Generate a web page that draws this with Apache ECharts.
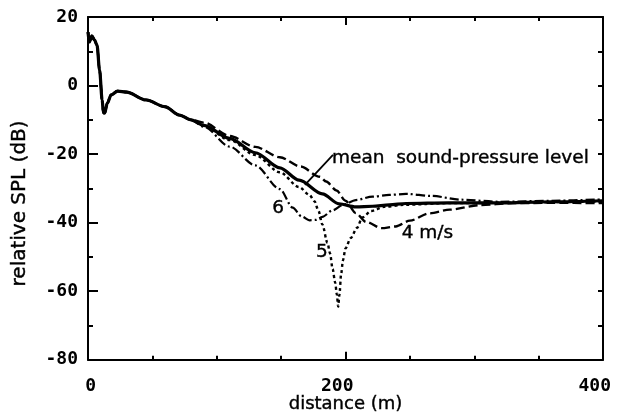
<!DOCTYPE html>
<html><head><meta charset="utf-8">
<script src="https://cdn.jsdelivr.net/npm/echarts@6/dist/echarts.min.js"></script>
<style>html,body{margin:0;padding:0;background:#fff}#c{width:617px;height:419px}</style>
</head><body><div id="c"></div>
<script>
// shared near-field part (all curves coincide)
const commonD = [0, 1, 3, 5, 7, 9, 11, 12, 13, 15, 18, 23, 30, 45, 60, 71, 80];
const commonV = [15.6, 12.7, 14.5, 13.3, 11.8, 4.5, -4.2, -8.0, -8.0, -5.1, -2.7, -1.6, -1.9, -4.2, -6.2, -8.6, -10.0];

// mean sound-pressure level (solid)
const meanD = [90, 110, 130, 149, 164, 182, 195, 208, 221, 234, 247, 280, 320, 360, 400];
const meanV = [-11.6, -15.4, -19.6, -24.0, -27.6, -31.6, -34.5, -35.4, -35.2, -34.8, -34.4, -34.2, -34.2, -33.9, -33.6];

// 4 m/s (dashed)
const w4D = [90, 110, 130, 149, 165, 180, 185, 193, 200, 208, 216, 228, 239, 250, 265, 281, 304, 330, 360, 400];
const w4V = [-10.8, -14.7, -17.9, -20.9, -23.6, -26.6, -28.0, -30.6, -33.6, -37.2, -39.8, -41.6, -41.1, -39.4, -37.3, -36.2, -34.9, -34.3, -34.2, -34.3];

// 5 m/s (dotted)
const w5D = [90, 110, 130, 149, 164, 172, 176, 179, 182, 186, 188, 190, 192, 193.3, 194.3, 195.3, 196.6, 198, 200, 204, 209, 213, 220, 230, 245, 280, 400];
const w5V = [-11.7, -15.9, -20.3, -25.3, -29.6, -31.9, -33.8, -36.5, -40.5, -45.9, -49.0, -53.5, -57.5, -61.0, -64.5, -61.0, -55.0, -51.0, -47.5, -44.5, -41.5, -38.5, -36.6, -35.4, -34.8, -34.3, -33.8];

// 6 m/s (dash-dot)
const w6D = [90, 110, 130, 149, 159, 166, 172, 177, 182, 190, 198, 208, 221, 234, 247, 267, 290, 320, 360, 400];
const w6V = [-12.0, -17.8, -23.3, -30.2, -35.6, -38.2, -39.3, -39.2, -38.3, -36.4, -34.8, -33.4, -32.4, -31.9, -31.6, -32.2, -33.3, -33.9, -33.6, -33.2];

// annotations
const annotTexts = ['mean  sound-pressure level', '6', '5', '4 m/s'];
const annotX = [189.5, 147.6, 181.7, 243.6];
const annotY = [-21.1, -35.7, -48.5, -43.0];
const annotAnchor = ['left', 'center', 'center', 'left'];
const leaderX = [190.3, 168.5];
const leaderY = [-20.2, -29.0];

const xTicks = { min: 0, max: 400, minor: 50, major: 200 };
const yTicks = { min: -80, max: 20, minor: 10, major: 20 };

function pairs(d, v) { return d.map((x, i) => [x, v[i]]); }
const full = (d, v) => pairs(commonD.concat(d), commonV.concat(v));

const numFont = { fontFamily: 'DejaVu Sans Mono', fontWeight: 'bold', fontSize: 18, color: '#000' };
const txtFont = { fontFamily: 'DejaVu Sans', fontSize: 18, color: '#000', textBorderColor: '#000', textBorderWidth: 0.4 };
const black = { color: '#000', width: 2 };

const chart = echarts.init(document.getElementById('c'), null, { renderer: 'canvas' });

const annotData = annotTexts.map((t, i) => ({
  value: [annotX[i], annotY[i]],
  name: t,
  label: annotAnchor[i] === 'left'
    ? { position: 'right', distance: 0 }
    : { position: 'inside' }
}));

const axLine = { onZero: false, lineStyle: black };

chart.setOption({
  animation: false,
  backgroundColor: '#fff',
  grid: [
    { left: 88, right: 14, top: 17, bottom: 59 },
    { left: 96, right: 6, top: 17, bottom: 59 }
  ],
  xAxis: [
    { gridIndex: 0, type: 'value', position: 'bottom', min: xTicks.min, max: xTicks.max, interval: xTicks.minor,
      axisLine: axLine, axisTick: { inside: true, length: 4, lineStyle: black },
      axisLabel: { show: false }, splitLine: { show: false },
      name: 'distance (m)', nameLocation: 'middle', nameGap: 36, nameTextStyle: txtFont },
    { gridIndex: 0, type: 'value', position: 'top', min: xTicks.min, max: xTicks.max, interval: xTicks.minor,
      axisLine: axLine, axisTick: { inside: true, length: 4, lineStyle: black },
      axisLabel: { show: false }, splitLine: { show: false } },
    { gridIndex: 0, type: 'value', position: 'bottom', min: xTicks.min, max: xTicks.max, interval: xTicks.major,
      axisLine: { show: false, onZero: false }, axisTick: { inside: true, length: 8, lineStyle: black },
      axisLabel: { show: false }, splitLine: { show: false } },
    { gridIndex: 0, type: 'value', position: 'top', min: xTicks.min, max: xTicks.max, interval: xTicks.major,
      axisLine: { show: false, onZero: false }, axisTick: { inside: true, length: 8, lineStyle: black },
      axisLabel: { show: false }, splitLine: { show: false } },
    { gridIndex: 1, type: 'value', position: 'bottom', min: xTicks.min, max: xTicks.max, interval: xTicks.major,
      axisLine: { show: false, onZero: false }, axisTick: { show: false }, splitLine: { show: false },
      axisLabel: Object.assign({ align: 'right', margin: 17 }, numFont) }
  ],
  yAxis: [
    { gridIndex: 0, type: 'value', position: 'left', min: yTicks.min, max: yTicks.max, interval: yTicks.minor,
      axisLine: Object.assign({ show: true }, axLine), axisTick: { show: true, inside: true, length: 5, lineStyle: black },
      axisLabel: Object.assign({ margin: 10, formatter: v => (v % yTicks.major === 0 ? String(v) : '') }, numFont),
      splitLine: { show: false },
      name: 'relative SPL (dB)', nameLocation: 'middle', nameGap: 58,
      nameTextStyle: Object.assign({}, txtFont, { fontSize: 20, padding: [0, 30, 0, 0] }) },
    { gridIndex: 0, type: 'value', position: 'left', min: yTicks.min, max: yTicks.max, interval: yTicks.major,
      axisLine: { show: false, onZero: false }, axisTick: { show: true, inside: true, length: 10, lineStyle: black },
      axisLabel: { show: false }, splitLine: { show: false } },
    { gridIndex: 0, type: 'value', position: 'right', min: yTicks.min, max: yTicks.max, interval: yTicks.minor,
      axisLine: Object.assign({ show: true }, axLine), axisTick: { show: true, inside: true, length: 5, lineStyle: black },
      axisLabel: { show: false }, splitLine: { show: false } },
    { gridIndex: 1, type: 'value', show: false, min: yTicks.min, max: yTicks.max }
  ],
  series: [
    { type: 'line', name: '4 m/s', data: full(w4D, w4V), showSymbol: false, smooth: 0.3, smoothMonotone: 'x',
      lineStyle: { color: '#000', width: 2.4, type: [9, 4] } },
    { type: 'line', name: '5 m/s', data: full(w5D, w5V), showSymbol: false, smooth: 0.3, smoothMonotone: 'x',
      lineStyle: { color: '#000', width: 2.4, type: [3, 3] } },
    { type: 'line', name: '6 m/s', data: full(w6D, w6V), showSymbol: false, smooth: 0.3, smoothMonotone: 'x',
      lineStyle: { color: '#000', width: 2.2, type: [9, 3, 2, 3] } },
    { type: 'line', name: 'mean', data: full(meanD, meanV), showSymbol: false, smooth: 0.3, smoothMonotone: 'x',
      lineStyle: { color: '#000', width: 3.2, type: 'solid' } },
    { type: 'line', name: 'leader', data: pairs(leaderX, leaderY), showSymbol: false,
      lineStyle: { color: '#000', width: 1.8 } },
    { type: 'scatter', name: 'labels', data: annotData, symbolSize: 0, itemStyle: { color: '#000', opacity: 1 },
      emphasis: { disabled: true },
      label: Object.assign({ show: true, opacity: 1, formatter: p => p.name }, txtFont, { fontSize: 18.5 }) }
  ]
});
</script>
</body></html>
